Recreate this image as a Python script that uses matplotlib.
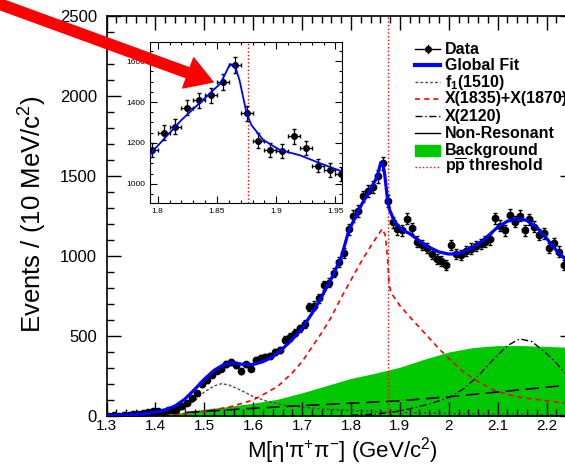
import matplotlib
matplotlib.use("Agg")
import matplotlib.pyplot as plt
from matplotlib.lines import Line2D
from matplotlib.patches import FancyArrowPatch, Rectangle
from matplotlib.ticker import MultipleLocator, FuncFormatter
from matplotlib.transforms import IdentityTransform
import numpy as np

plt.rcParams['font.family'] = ['Liberation Sans', 'DejaVu Sans']
plt.rcParams['mathtext.default'] = 'regular'

# bin centres, 10 MeV bins
mass = np.round(np.arange(1.305, 2.24, 0.01), 3)
counts = [2, 4, 3, 6, 8, 10, 14, 18, 22, 30,
          34, 28, 36, 38, 48, 60, 82, 110, 142, 198,
          222, 258, 284, 296, 325, 336, 318, 282, 322, 296,
          352, 360, 370, 376, 400, 412, 476, 494, 520, 548,
          575, 683, 690, 735, 818, 834, 896, 964, 1020, 1166,
          1250, 1280, 1372, 1408, 1432, 1498, 1580, 1345, 1212, 1166,
          1162, 1232, 1174, 1089, 1068, 1048, 1010, 984, 966, 945,
          1069, 1010, 1008, 1030, 1046, 1062, 1076, 1090, 1104, 1235,
          1190, 1162, 1256, 1214, 1252, 1162, 1230, 1183, 1132, 1142,
          1048, 1080, 1028, 944]

# global fit
fit_x = [1.30, 1.34, 1.38, 1.40, 1.42, 1.44, 1.46, 1.48, 1.50, 1.52, 1.54, 1.56,
         1.58, 1.60, 1.62, 1.64, 1.66, 1.68, 1.70, 1.72, 1.74, 1.76, 1.78, 1.795,
         1.82, 1.84, 1.853, 1.861, 1.865, 1.869, 1.875, 1.879, 1.889, 1.903, 1.92,
         1.937, 1.955, 1.98, 2.00, 2.02, 2.04, 2.06, 2.08, 2.10, 2.12, 2.14, 2.16,
         2.18, 2.20, 2.22, 2.24]
fit_y = [2, 6, 14, 25, 38, 62, 105, 165, 230, 285, 322, 332,
         322, 322, 340, 371, 420, 478, 548, 640, 745, 860, 990, 1155,
         1312, 1420, 1491, 1585, 1580, 1507, 1345, 1288, 1215, 1166, 1140,
         1101, 1062, 1025, 1012, 1015, 1040, 1075, 1125, 1180, 1218, 1234, 1222,
         1178, 1110, 1035, 975]

# f1(1510)
f1_x = [1.38, 1.42, 1.44, 1.46, 1.48, 1.50, 1.52, 1.535, 1.55, 1.57, 1.60, 1.63,
        1.66, 1.70, 1.75, 1.80, 1.85, 1.90, 1.95, 2.00, 2.10, 2.24]
f1_y = [2, 8, 20, 50, 95, 150, 188, 202, 194, 168, 122, 90,
        70, 55, 42, 35, 28, 22, 18, 15, 11, 8]

# X(1835)+X(1870)
x18_x = [1.40, 1.45, 1.50, 1.55, 1.60, 1.63, 1.65, 1.68, 1.70, 1.72, 1.74, 1.76,
         1.78, 1.80, 1.82, 1.84, 1.855, 1.864, 1.870, 1.875, 1.878, 1.882, 1.90,
         1.92, 1.95, 1.98, 2.00, 2.03, 2.06, 2.09, 2.12, 2.15, 2.20, 2.24]
x18_y = [2, 12, 30, 55, 100, 150, 185, 270, 340, 430, 520, 620,
         740, 850, 960, 1060, 1130, 1170, 1130, 980, 820, 770, 690,
         620, 520, 420, 360, 275, 215, 165, 135, 115, 95, 80]

# X(2120)
x21_x = [1.80, 1.85, 1.88, 1.92, 1.96, 2.00, 2.03, 2.06, 2.09, 2.12, 2.145,
         2.17, 2.20, 2.22, 2.24]
x21_y = [5, 12, 22, 45, 75, 115, 170, 250, 350, 440, 482,
         465, 390, 330, 260]

# non-resonant
nr_x = [1.30, 1.45, 1.60, 1.70, 1.80, 1.90, 2.00, 2.10, 2.20, 2.24]
nr_y = [0, 20, 48, 65, 80, 95, 120, 150, 180, 192]

# background
bkg_x = [1.30, 1.40, 1.45, 1.50, 1.55, 1.60, 1.65, 1.70, 1.75, 1.80, 1.85, 1.90,
         1.95, 2.00, 2.05, 2.10, 2.15, 2.20, 2.24]
bkg_y = [0, 5, 20, 42, 60, 80, 105, 145, 190, 235, 268, 305,
         355, 400, 428, 440, 440, 435, 430]

pp_threshold = 1.8765

legend_labels = ['Data', 'Global Fit', 'f$_{1}$(1510)', 'X(1835)+X(1870)',
                 'X(2120)', 'Non-Resonant', 'Background', r'p$\overline{p}$ threshold']

green = '#00c800'
W, H = 565, 465

fig = plt.figure(figsize=(W / 100, H / 100), dpi=100)
ax = fig.add_axes([106.5 / W, 49 / H, (574 - 106.5) / W, 400 / H])

ax.fill_between(bkg_x, 0, bkg_y, color=green, lw=0, zorder=1)
ax.plot(f1_x, f1_y, color='0.3', ls=(0, (2, 1.5)), lw=1, zorder=2)
ax.plot(x18_x, x18_y, color='red', ls=(0, (3, 2.5)), lw=1.2, zorder=2)
ax.plot(x21_x, x21_y, color='k', ls=(0, (5, 2, 1, 2)), lw=1, zorder=2)
ax.plot(nr_x, nr_y, color='k', ls=(0, (8, 4)), lw=1.2, zorder=2)
ax.axvline(pp_threshold, color='red', ls=':', lw=1, zorder=2)
ax.errorbar(mass, counts, yerr=np.sqrt(counts), xerr=0.005, fmt='o', color='k',
            ms=4.5, elinewidth=1, capsize=1.5, zorder=3)
ax.plot(fit_x, fit_y, color='blue', lw=2.3, zorder=4)

ax.set_xlim(1.3, 1.3 + (574 - 106.5) / 489)
ax.set_ylim(0, 2500)
ax.xaxis.set_major_locator(MultipleLocator(0.1))
ax.xaxis.set_minor_locator(MultipleLocator(0.02))
ax.yaxis.set_major_locator(MultipleLocator(500))
ax.yaxis.set_minor_locator(MultipleLocator(100))
ax.xaxis.set_major_formatter(FuncFormatter(lambda v, p: '%g' % round(v, 2)))
ax.tick_params(which='both', direction='in', top=True, right=True, width=1, labelsize=12)
ax.tick_params(axis='x', labelsize=11, pad=2)
ax.tick_params(which='major', length=10)
ax.tick_params(which='minor', length=5)
ax.tick_params(axis='y', pad=7)
for s in ax.spines.values():
    s.set_linewidth(1.2)

fig.text(33 / W, 1 - 214 / H, 'Events / (10 MeV/c$^{2}$)', rotation=90,
         ha='center', va='center', fontsize=18.5)
fig.text(438 / W, 1 - 457.5 / H, "M[\u03b7'\u03c0$^{+}$\u03c0$^{-}$] (GeV/c$^{2}$)",
         ha='right', va='baseline', fontsize=16)

# inset
axi = fig.add_axes([150 / W, 262 / H, 192 / W, 161 / H])
axi.errorbar(mass, counts, yerr=np.sqrt(counts), xerr=0.005, fmt='o', color='k',
             ms=4, elinewidth=0.9, capsize=1.2, zorder=3)
axi.plot(fit_x, fit_y, color='blue', lw=1.3, zorder=4)
axi.axvline(pp_threshold, color='red', ls=':', lw=1, zorder=2)
axi.set_xlim(1.7935, 1.9555)
axi.set_ylim(907, 1693)
axi.xaxis.set_major_locator(MultipleLocator(0.05))
axi.xaxis.set_minor_locator(MultipleLocator(0.01))
axi.yaxis.set_major_locator(MultipleLocator(200))
axi.yaxis.set_minor_locator(MultipleLocator(50))
axi.xaxis.set_major_formatter(FuncFormatter(lambda v, p: '%g' % round(v, 3)))
axi.tick_params(which='both', direction='in', top=True, right=True, width=0.8, labelsize=6)
axi.tick_params(which='major', length=5)
axi.tick_params(which='minor', length=2.5)

# legend
rows = [49, 65.5, 82, 99, 116.5, 133, 150, 166.5]
for lab, yy in zip(legend_labels, rows):
    fig.text(445 / W, 1 - yy / H, lab, ha='left', va='center', fontsize=11.5, fontweight='bold')
lx = [415 / W, 440 / W]
def fy(yy):
    return [1 - yy / H, 1 - yy / H]
fig.add_artist(Line2D(lx, fy(rows[0]), color='k', lw=1))
fig.add_artist(Line2D([427.5 / W], [1 - rows[0] / H], color='k', marker='o', ms=4))
fig.add_artist(Line2D([427.5 / W] * 2, [1 - (rows[0] - 4) / H, 1 - (rows[0] + 4) / H], color='k', lw=1))
fig.add_artist(Line2D(lx, fy(rows[1]), color='blue', lw=3))
fig.add_artist(Line2D(lx, fy(rows[2]), color='0.3', lw=1, ls=(0, (2, 1.5))))
fig.add_artist(Line2D(lx, fy(rows[3]), color='red', lw=1.2, ls=(0, (3, 2.5))))
fig.add_artist(Line2D(lx, fy(rows[4]), color='k', lw=1, ls=(0, (5, 2, 1, 2))))
fig.add_artist(Line2D(lx, fy(rows[5]), color='k', lw=1))
fig.add_artist(Rectangle((415 / W, 1 - (rows[6] + 5.5) / H), 25 / W, 11 / H, color=green))
fig.add_artist(Line2D(lx, fy(rows[7]), color='red', lw=1, ls=':'))

# red arrow pointing at the peak
arrow = FancyArrowPatch((-6, H - 2), (213, H - 82), transform=IdentityTransform(),
                        arrowstyle='simple,head_length=19,head_width=23,tail_width=7.5',
                        mutation_scale=1, color='red', shrinkA=0, shrinkB=0)
fig.add_artist(arrow)

fig.savefig('out.png', dpi=100)
